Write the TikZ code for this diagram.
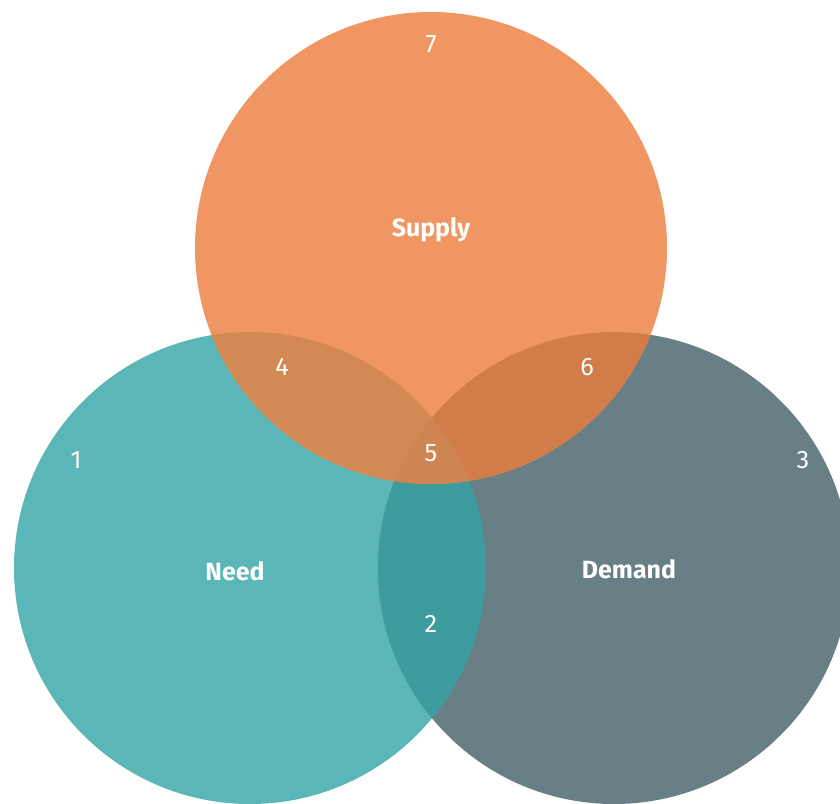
\documentclass[tikz,border=0pt]{standalone}
\usepackage{fontspec}
\setmainfont{Fira Sans}
\definecolor{needfill}{HTML}{5BB6B7}
\definecolor{demandfill}{HTML}{687F86}
\definecolor{supplyfill}{HTML}{F09662}
\definecolor{needdemand}{HTML}{3C9C9E}
\definecolor{supplyneed}{HTML}{D28954}
\definecolor{supplydemand}{HTML}{D27C4A}
\definecolor{allthree}{HTML}{CF8551}

\begin{document}
\begin{tikzpicture}[x=0.75pt, y=-0.75pt]
                \tikzset{setname/.style={text=white, font=\bfseries\fontsize{18.7}{20}\selectfont}};
                \tikzset{num/.style={text=white, font=\fontsize{19}{20}\selectfont}};
                \useasboundingbox (0, 0) rectangle (840, 804);
                \coordinate (needc) at (250, 568);
                \coordinate (demandc) at (614, 568);
                \coordinate (supplyc) at (431, 248);
                % the three sets
                \fill[needfill] (needc) circle[radius=236];
                \fill[demandfill] (demandc) circle[radius=236];
                \fill[supplyfill] (supplyc) circle[radius=236];
                % overlaps
                \begin{scope}
                    \clip (needc) circle[radius=236];
                    \fill[needdemand] (demandc) circle[radius=236];
                    \fill[supplyneed] (supplyc) circle[radius=236];
                \end{scope}
                \begin{scope}
                    \clip (demandc) circle[radius=236];
                    \fill[supplydemand] (supplyc) circle[radius=236];
                \end{scope}
                \begin{scope}
                    \clip (needc) circle[radius=236];
                    \clip (demandc) circle[radius=236];
                    \fill[allthree] (supplyc) circle[radius=236];
                \end{scope}
                % set names
                \node[setname] (supply) at (431, 230) {Supply};
                \node[setname] (need) at (235, 571) {Need};
                \node[setname] (demand) at (629, 569) {Demand};
                % region numbers
                \node[num] (r1) at (76, 460) {1};
                \node[num] (r2) at (431, 624) {2};
                \node[num] (r3) at (803, 460) {3};
                \node[num] (r4) at (282, 367) {4};
                \node[num] (r5) at (431, 453) {5};
                \node[num] (r6) at (587, 367) {6};
                \node[num] (r7) at (431, 44) {7};
            \end{tikzpicture}
\end{document}
